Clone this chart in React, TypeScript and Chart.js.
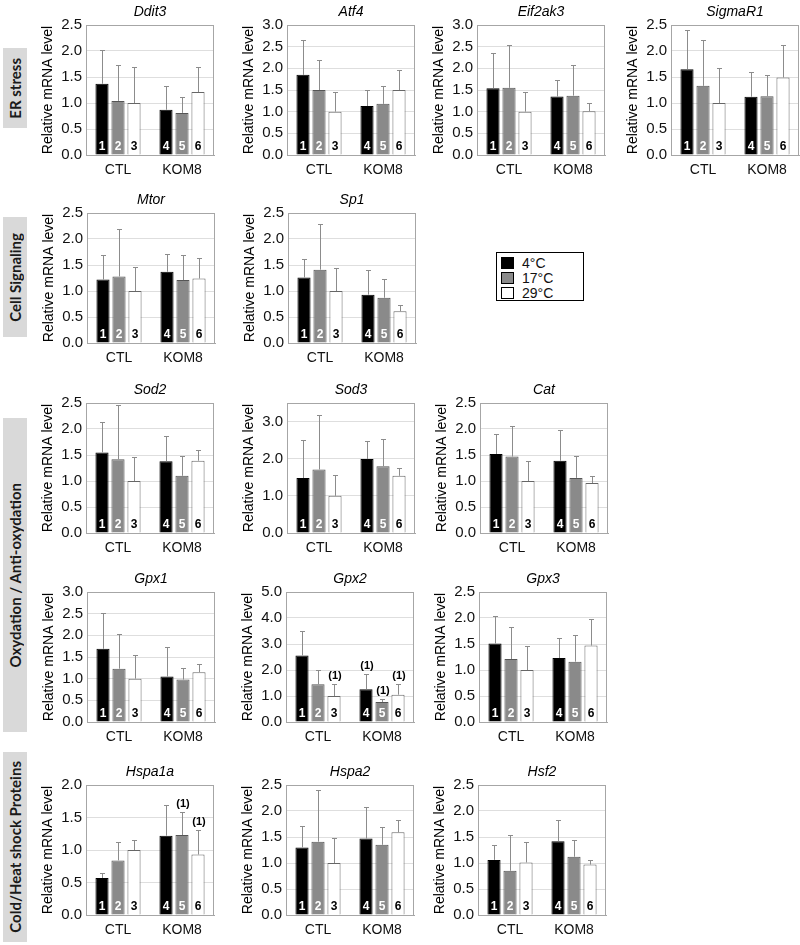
import React, { useEffect, useRef } from "react";
import { Chart, registerables } from "chart.js";

Chart.register(...registerables);
Chart.defaults.font.family = "'Liberation Sans', Arial, sans-serif";
Chart.defaults.color = "#111";

// ---------- data ----------
const groups = ["CTL", "KOM8"];
const temps = ["4°C", "17°C", "29°C"];
const barNumbers = ["1", "2", "3", "4", "5", "6"];
const yTitle = "Relative mRNA level";

// bar order: CTL 4°C, CTL 17°C, CTL 29°C, KOM8 4°C, KOM8 17°C, KOM8 29°C
const ddit3Mean = [1.37, 1.04, 1.0, 0.87, 0.81, 1.21];
const ddit3Err = [0.65, 0.69, 0.69, 0.46, 0.31, 0.49];
const atf4Mean = [1.85, 1.5, 1.0, 1.13, 1.18, 1.5];
const atf4Err = [0.8, 0.69, 0.46, 0.37, 0.41, 0.46];
const eif2ak3Mean = [1.54, 1.55, 1.0, 1.35, 1.37, 1.01];
const eif2ak3Err = [0.81, 0.99, 0.46, 0.38, 0.71, 0.18];
const sigmar1Mean = [1.65, 1.33, 1.0, 1.12, 1.13, 1.49];
const sigmar1Err = [0.75, 0.89, 0.67, 0.48, 0.41, 0.62];
const mtorMean = [1.22, 1.28, 1.0, 1.37, 1.21, 1.24];
const mtorErr = [0.48, 0.91, 0.46, 0.34, 0.48, 0.39];
const sp1Mean = [1.26, 1.41, 1.0, 0.93, 0.87, 0.61];
const sp1Err = [0.36, 0.88, 0.44, 0.48, 0.37, 0.12];
const sod2Mean = [1.55, 1.42, 1.0, 1.38, 1.1, 1.39];
const sod2Err = [0.58, 1.04, 0.46, 0.49, 0.39, 0.21];
const sod3Mean = [1.48, 1.71, 1.0, 1.99, 1.8, 1.54];
const sod3Err = [1.03, 1.48, 0.57, 0.5, 0.73, 0.21];
const catMean = [1.52, 1.47, 1.0, 1.39, 1.06, 0.96];
const catErr = [0.38, 0.58, 0.39, 0.6, 0.43, 0.13];
const gpx1Mean = [1.69, 1.23, 1.0, 1.05, 0.98, 1.15];
const gpx1Err = [0.83, 0.81, 0.55, 0.68, 0.27, 0.18];
const gpx2Mean = [2.56, 1.45, 1.0, 1.26, 0.77, 1.05];
const gpx2Err = [0.93, 0.54, 0.45, 0.59, 0.13, 0.43];
const gpx2Marks = [3, 4, 5, 6];
const gpx3Mean = [1.51, 1.21, 1.0, 1.23, 1.16, 1.47];
const gpx3Err = [0.53, 0.61, 0.47, 0.39, 0.52, 0.51];
const hspa1aMean = [0.57, 0.84, 1.0, 1.22, 1.23, 0.93];
const hspa1aErr = [0.08, 0.29, 0.15, 0.47, 0.35, 0.38];
const hspa1aMarks = [5, 6];
const hspa2Mean = [1.3, 1.41, 1.0, 1.47, 1.35, 1.59];
const hspa2Err = [0.42, 0.99, 0.49, 0.61, 0.34, 0.24];
const hsf2Mean = [1.06, 0.85, 1.01, 1.42, 1.12, 0.97];
const hsf2Err = [0.29, 0.68, 0.4, 0.41, 0.32, 0.09];

const categoryLabels = ["ER stress", "Cell Signaling", "Oxydation / Anti-oxydation", "Cold/Heat shock Proteins"];

// ---------- panel definitions ----------
type PanelDef = {
  gene: string; mean: number[]; err: number[]; max: number; step: number; marks: number[];
  x: number; y: number;
};

const panels: PanelDef[] = [
  { gene: "Ddit3", mean: ddit3Mean, err: ddit3Err, max: 2.5, step: 0.5, marks: [], x: 86, y: 25 },
  { gene: "Atf4", mean: atf4Mean, err: atf4Err, max: 3.0, step: 0.5, marks: [], x: 287, y: 25 },
  { gene: "Eif2ak3", mean: eif2ak3Mean, err: eif2ak3Err, max: 3.0, step: 0.5, marks: [], x: 477, y: 25 },
  { gene: "SigmaR1", mean: sigmar1Mean, err: sigmar1Err, max: 2.5, step: 0.5, marks: [], x: 671, y: 25 },
  { gene: "Mtor", mean: mtorMean, err: mtorErr, max: 2.5, step: 0.5, marks: [], x: 87, y: 213 },
  { gene: "Sp1", mean: sp1Mean, err: sp1Err, max: 2.5, step: 0.5, marks: [], x: 288, y: 213 },
  { gene: "Sod2", mean: sod2Mean, err: sod2Err, max: 2.5, step: 0.5, marks: [], x: 86, y: 403 },
  { gene: "Sod3", mean: sod3Mean, err: sod3Err, max: 3.5, step: 0.5, marks: [], x: 287, y: 403 },
  { gene: "Cat", mean: catMean, err: catErr, max: 2.5, step: 0.5, marks: [], x: 480, y: 403 },
  { gene: "Gpx1", mean: gpx1Mean, err: gpx1Err, max: 3.0, step: 0.5, marks: [], x: 87, y: 592 },
  { gene: "Gpx2", mean: gpx2Mean, err: gpx2Err, max: 5.0, step: 1.0, marks: gpx2Marks, x: 286, y: 592 },
  { gene: "Gpx3", mean: gpx3Mean, err: gpx3Err, max: 2.5, step: 0.5, marks: [], x: 479, y: 592 },
  { gene: "Hspa1a", mean: hspa1aMean, err: hspa1aErr, max: 2.0, step: 0.5, marks: hspa1aMarks, x: 86, y: 785 },
  { gene: "Hspa2", mean: hspa2Mean, err: hspa2Err, max: 2.5, step: 0.5, marks: [], x: 286, y: 785 },
  { gene: "Hsf2", mean: hsf2Mean, err: hsf2Err, max: 2.5, step: 0.5, marks: [], x: 478, y: 785 },
];

const categoryBoxes = [
  { text: categoryLabels[0], top: 48, height: 80 },
  { text: categoryLabels[1], top: 217, height: 120 },
  { text: categoryLabels[2], top: 418, height: 314 },
  { text: categoryLabels[3], top: 752, height: 190 },
];

const LEFT_W = 70;
const TOP_H = 25;
const PLOT_W = 128;
const PLOT_H = 130;
const BOTTOM_H = 26;
const RIGHT_P = 4;
const CW = LEFT_W + PLOT_W + RIGHT_P;
const CH = TOP_H + PLOT_H + BOTTOM_H;

const fills = ["#000000", "#8a8a8a", "#ffffff"];
const borders = ["#000000", "#555555", "#666666"];
const numColors = ["#ffffff", "#ffffff", "#000000"];

function Panel({ p }: { p: PanelDef }) {
  const ref = useRef<HTMLCanvasElement>(null);
  useEffect(() => {
    const deco = {
      id: "deco",
      afterDatasetsDraw(chart: any) {
        const { ctx, chartArea } = chart;
        const ys = chart.scales.y;
        ctx.save();
        // plot frame
        ctx.strokeStyle = "#a6a6a6";
        ctx.lineWidth = 1;
        ctx.strokeRect(Math.round(chartArea.left) + 0.5, Math.round(chartArea.top) + 0.5,
          Math.round(chartArea.right - chartArea.left) - 1, Math.round(chartArea.bottom - chartArea.top));
        for (let d = 0; d < 3; d++) {
          const meta = chart.getDatasetMeta(d);
          meta.data.forEach((bar: any, j: number) => {
            const idx = j * 3 + d;
            const v = p.mean[idx];
            const e = p.err[idx];
            const x = Math.round(bar.x) + 0.5;
            const yv = ys.getPixelForValue(v);
            const yt = ys.getPixelForValue(v + e);
            ctx.strokeStyle = "#8c8c8c";
            ctx.lineWidth = 1;
            ctx.beginPath();
            ctx.moveTo(x, yv);
            ctx.lineTo(x, Math.round(yt) + 0.5);
            ctx.moveTo(x - 2.5, Math.round(yt) + 0.5);
            ctx.lineTo(x + 2.5, Math.round(yt) + 0.5);
            ctx.stroke();
            ctx.fillStyle = numColors[d];
            ctx.font = "bold 12px 'Liberation Sans', Arial, sans-serif";
            ctx.textAlign = "center";
            ctx.textBaseline = "middle";
            ctx.fillText(barNumbers[idx], bar.x, chartArea.bottom - 8);
            if (p.marks.includes(idx + 1)) {
              ctx.fillStyle = "#000";
              ctx.font = "bold 11px 'Liberation Sans', Arial, sans-serif";
              ctx.textBaseline = "alphabetic";
              ctx.fillText("(1)", bar.x + 1, yt - 5);
            }
          });
        }
        // gene title
        ctx.fillStyle = "#000";
        ctx.font = "italic 14px 'Liberation Sans', Arial, sans-serif";
        ctx.textAlign = "center";
        ctx.textBaseline = "alphabetic";
        ctx.fillText(p.gene, (chartArea.left + chartArea.right) / 2, chartArea.top - 9);
        // y title
        ctx.translate(chartArea.left - 38, (chartArea.top + chartArea.bottom) / 2);
        ctx.rotate(-Math.PI / 2);
        ctx.font = "14px 'Liberation Sans', Arial, sans-serif";
        ctx.textBaseline = "middle";
        ctx.fillText(yTitle, 0, 0);
        ctx.restore();
      },
    };
    const chart = new Chart(ref.current as HTMLCanvasElement, {
      type: "bar",
      data: {
        labels: groups,
        datasets: temps.map((t, d) => ({
          label: t,
          data: [p.mean[d], p.mean[d + 3]],
          backgroundColor: fills[d],
          borderColor: borders[d],
          borderWidth: 1,
          categoryPercentage: 0.75,
          barPercentage: 0.82,
        })),
      },
      options: {
        responsive: false,
        animation: false,
        devicePixelRatio: 1,
        layout: { padding: { top: TOP_H, right: RIGHT_P, left: 0, bottom: 0 } },
        plugins: { legend: { display: false }, tooltip: { enabled: false }, title: { display: false } },
        scales: {
          x: {
            grid: { display: false, drawTicks: false },
            border: { display: true, color: "#a6a6a6" },
            ticks: { font: { size: 14 }, padding: 7, color: "#111" },
            afterFit: (s: any) => { s.height = BOTTOM_H; },
          },
          y: {
            min: 0,
            max: p.max,
            grid: { color: "#dedede", drawTicks: false },
            border: { display: true, color: "#a6a6a6" },
            ticks: {
              stepSize: p.step,
              padding: 4,
              font: { size: 15 },
              color: "#111",
              callback: (v: any) => Number(v).toFixed(1),
            },
            afterFit: (s: any) => { s.width = LEFT_W; },
          },
        },
      },
      plugins: [deco],
    } as any);
    return () => chart.destroy();
  }, []);
  return (
    <canvas
      ref={ref}
      width={CW}
      height={CH}
      style={{ position: "absolute", left: p.x - LEFT_W, top: p.y - TOP_H, width: CW, height: CH }}
    />
  );
}

export default function App() {
  return (
    <div style={{ position: "absolute", left: 0, top: 0, width: 800, height: 945, background: "#fff", overflow: "hidden" }}>
      {categoryBoxes.map((c) => (
        <div
          key={c.text}
          style={{
            position: "absolute", left: 3, top: c.top, width: 24, height: c.height,
            background: "#d9d9d9", display: "flex", alignItems: "center", justifyContent: "center",
          }}
        >
          <span
            style={{
              writingMode: "vertical-rl", transform: "rotate(180deg)", whiteSpace: "nowrap",
              fontFamily: "Lato, 'Open Sans', sans-serif", fontWeight: 700, fontSize: 15, color: "#1a1a1a",
            }}
          >
            {c.text}
          </span>
        </div>
      ))}
      {panels.map((p) => <Panel key={p.gene} p={p} />)}
      <div
        style={{
          position: "absolute", left: 496, top: 252, width: 88, height: 49, border: "1px solid #000",
          boxSizing: "border-box", padding: "2px 0 0 4px",
          fontFamily: "'Liberation Sans', Arial, sans-serif", fontSize: 14, color: "#111",
        }}
      >
        {temps.map((t, i) => (
          <div key={t} style={{ display: "flex", alignItems: "center", height: 15 }}>
            <div style={{ width: 13, height: 12, background: fills[i], border: "1px solid #000", boxSizing: "border-box", marginRight: 8 }} />
            <span>{t}</span>
          </div>
        ))}
      </div>
    </div>
  );
}
